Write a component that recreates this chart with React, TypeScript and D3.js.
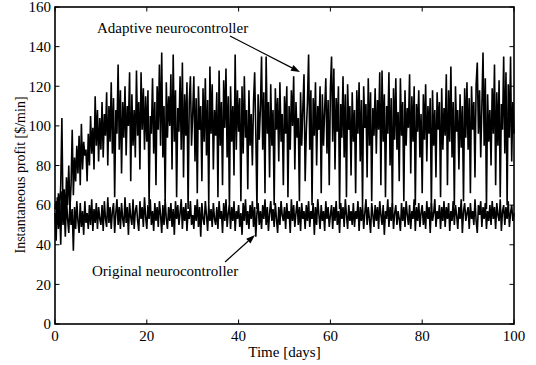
import React from "react";
import * as d3 from "d3";

const W = 536;
const H = 365;
const STEP_DAYS = 0.25;

const xTicks = [0, 20, 40, 60, 80, 100];
const yTicks = [0, 20, 40, 60, 80, 100, 120, 140, 160];

// Adaptive neurocontroller profit, one value every 0.25 day
const adaptive = [
  58, 62, 50, 66, 57, 70, 104, 55, 68, 52, 74, 60, 80, 58, 70, 98, 65, 84, 72, 90,
  76, 95, 70, 101, 78, 92, 85, 88, 72, 96, 80, 105, 86, 99, 78, 115, 90, 108, 82, 104,
  88, 112, 84, 106, 95, 117, 80, 110, 92, 122, 86, 114, 64, 108, 96, 131, 88, 118, 76, 112,
  94, 120, 85, 110, 100, 127, 72, 116, 90, 108, 84, 128, 95, 112, 78, 127, 98, 119, 88, 115,
  92, 118, 60, 105, 96, 124, 86, 112, 70, 120, 98, 131, 90, 137, 84, 110, 62, 122, 94, 115,
  100, 126, 78, 136, 92, 118, 64, 109, 97, 125, 88, 132, 74, 116, 95, 122, 58, 112, 125, 90,
  106, 125, 82, 114, 66, 120, 98, 110, 72, 119, 92, 124, 85, 113, 60, 130, 96, 121, 78, 108,
  95, 117, 64, 128, 90, 112, 70, 123, 99, 129, 84, 115, 58, 120, 92, 110, 75, 136, 88, 118,
  97, 114, 62, 120, 86, 125, 94, 108, 68, 118, 90, 106, 80, 112, 127, 96, 58, 116, 93, 109,
  135, 88, 117, 66, 135, 96, 112, 74, 121, 90, 108, 60, 119, 98, 114, 82, 122, 92, 106, 70,
  115, 96, 120, 64, 110, 88, 118, 100, 125, 78, 112, 94, 104, 62, 117, 90, 109, 126, 72, 97,
  112, 136, 88, 118, 60, 114, 95, 122, 80, 110, 98, 120, 66, 116, 90, 108, 124, 86, 113, 70,
  119, 135, 92, 129, 78, 114, 97, 120, 58, 111, 94, 125, 84, 116, 64, 121, 98, 110, 75, 117,
  92, 108, 66, 118, 96, 122, 82, 113, 60, 120, 99, 111, 74, 124, 90, 117, 62, 109, 95, 119,
  86, 113, 98, 127, 70, 128, 92, 116, 64, 110, 96, 127, 80, 114, 58, 119, 93, 124, 88, 107,
  72, 124, 95, 112, 62, 118, 90, 109, 99, 126, 76, 115, 92, 120, 60, 111, 97, 118, 84, 106,
  66, 116, 93, 121, 82, 110, 96, 114, 58, 118, 90, 108, 74, 117, 98, 112, 64, 119, 88, 109,
  95, 126, 70, 118, 92, 130, 84, 112, 60, 120, 97, 108, 78, 116, 89, 110, 62, 119, 94, 122,
  88, 114, 66, 120, 98, 112, 74, 121, 132, 96, 118, 84, 110, 137, 90, 124, 58, 116, 92, 108,
  80, 119, 96, 131, 70, 117, 90, 123, 64, 111, 98, 135, 86, 127, 60, 121, 94, 135, 82, 112,
  96,
];

// Original neurocontroller profit, one value every 0.25 day
const original = [
  56, 42, 64, 48, 61, 40, 67, 50, 59, 44, 63, 53, 46, 61, 50, 58, 37, 59, 48, 62,
  52, 46, 61, 49, 57, 45, 62, 51, 56, 48, 60, 50, 63, 47, 58, 51, 61, 48, 59, 53,
  50, 60, 47, 62, 53, 49, 64, 51, 59, 48, 57, 61, 46, 56, 63, 50, 59, 48, 61, 53,
  49, 64, 51, 59, 45, 61, 54, 50, 63, 48, 57, 60, 52, 47, 62, 53, 59, 49, 64, 54,
  48, 60, 53, 63, 50, 57, 47, 61, 52, 59, 49, 62, 55, 46, 60, 50, 63, 53, 48, 59,
  52, 61, 49, 58, 45, 62, 53, 60, 50, 56, 63, 48, 59, 52, 61, 47, 57, 53, 62, 50,
  55, 48, 60, 52, 63, 49, 59, 44, 61, 53, 50, 62, 55, 47, 60, 52, 58, 49, 61, 53,
  50, 59, 48, 62, 53, 57, 46, 61, 52, 63, 49, 56, 60, 48, 59, 52, 62, 47, 57, 53,
  60, 49, 56, 45, 61, 52, 63, 50, 57, 48, 60, 53, 62, 49, 59, 44, 56, 61, 50, 57,
  48, 60, 53, 63, 50, 59, 47, 56, 62, 52, 58, 49, 61, 53, 46, 59, 50, 62, 55, 52,
  59, 48, 61, 53, 57, 46, 63, 52, 60, 49, 56, 62, 50, 59, 47, 61, 53, 57, 48, 60,
  52, 62, 49, 57, 53, 61, 45, 59, 50, 63, 55, 48, 60, 52, 57, 47, 62, 53, 59, 49,
  55, 60, 48, 59, 52, 62, 50, 57, 46, 61, 53, 59, 49, 63, 55, 48, 60, 52, 57, 50,
  61, 49, 57, 53, 62, 47, 59, 52, 60, 48, 56, 63, 50, 59, 53, 46, 61, 55, 49, 60,
  52, 59, 48, 62, 55, 50, 60, 45, 57, 53, 63, 49, 59, 52, 61, 48, 56, 60, 50, 57,
  53, 47, 61, 52, 59, 49, 62, 55, 50, 60, 48, 57, 53, 63, 47, 59, 52, 61, 49, 56,
  60, 50, 57, 48, 62, 53, 59, 46, 61, 52, 56, 63, 49, 57, 53, 60, 48, 59, 52, 62,
  49, 59, 53, 61, 47, 57, 52, 62, 50, 60, 55, 48, 59, 53, 63, 46, 57, 61, 52, 56,
  59, 48, 61, 53, 57, 50, 63, 52, 46, 60, 55, 62, 49, 59, 53, 61, 48, 57, 52, 60,
  50, 62, 53, 59, 48, 61, 55, 52, 63, 47, 57, 60, 50, 59, 53, 62, 49, 56, 60, 52,
  56,
];

const FONT = "'Liberation Serif', 'Times New Roman', serif";

export default function App() {
  const left = 55, right = 514, top = 7, bottom = 324;
  const x = d3.scaleLinear().domain([0, 100]).range([left, right]);
  const y = d3.scaleLinear().domain([0, 160]).range([bottom, top]);
  const line = d3
    .line<number>()
    .x((_, i) => x(i * STEP_DAYS))
    .y((d) => y(d));
  const tick = 4.5;

  const arrow = (x1: number, y1: number, x2: number, y2: number) => {
    const ang = Math.atan2(y2 - y1, x2 - x1);
    const L = 9, Wd = 3.2;
    const bx = x2 - L * Math.cos(ang), by = y2 - L * Math.sin(ang);
    const px = -Math.sin(ang) * Wd, py = Math.cos(ang) * Wd;
    return (
      <g>
        <line x1={x1} y1={y1} x2={bx} y2={by} stroke="#000" strokeWidth={1.2} />
        <polygon points={`${x2},${y2} ${bx + px},${by + py} ${bx - px},${by - py}`} fill="#000" />
      </g>
    );
  };

  return (
    <svg width={W} height={H} style={{ position: "absolute", left: 0, top: 0, background: "#fff" }}
      fontFamily={FONT} fontSize={15}>
      <rect x={0} y={0} width={W} height={H} fill="#fff" />
      <path d={line(adaptive) || ""} fill="none" stroke="#000" strokeWidth={1.6} strokeLinejoin="miter" strokeMiterlimit={2} />
      <path d={line(original) || ""} fill="none" stroke="#000" strokeWidth={1.6} strokeLinejoin="miter" strokeMiterlimit={2} />
      {/* frame */}
      <rect x={left} y={top} width={right - left} height={bottom - top} fill="none" stroke="#000" strokeWidth={1.6} />
      {xTicks.map((t) => (
        <g key={"x" + t}>
          <line x1={x(t)} x2={x(t)} y1={bottom} y2={bottom - tick} stroke="#000" strokeWidth={1} />
          <line x1={x(t)} x2={x(t)} y1={top} y2={top + tick} stroke="#000" strokeWidth={1} />
          <text x={x(t)} y={341} textAnchor="middle">{t}</text>
        </g>
      ))}
      {yTicks.map((t) => (
        <g key={"y" + t}>
          <line x1={left} x2={left + tick} y1={y(t)} y2={y(t)} stroke="#000" strokeWidth={1} />
          <line x1={right} x2={right - tick} y1={y(t)} y2={y(t)} stroke="#000" strokeWidth={1} />
          <text x={51} y={y(t)} dy="0.35em" textAnchor="end">{t}</text>
        </g>
      ))}
      <text x={(left + right) / 2} y={357} textAnchor="middle">Time [days]</text>
      <text transform={`translate(25,175) rotate(-90)`} textAnchor="middle" fontSize={14}>
        Instantaneous profit [$/min]
      </text>
      <text x={97} y={33}>Adaptive neurocontroller</text>
      {arrow(230, 36, 300, 72)}
      <text x={92} y={276}>Original neurocontroller</text>
      {arrow(225, 262, 255, 235)}
    </svg>
  );
}
